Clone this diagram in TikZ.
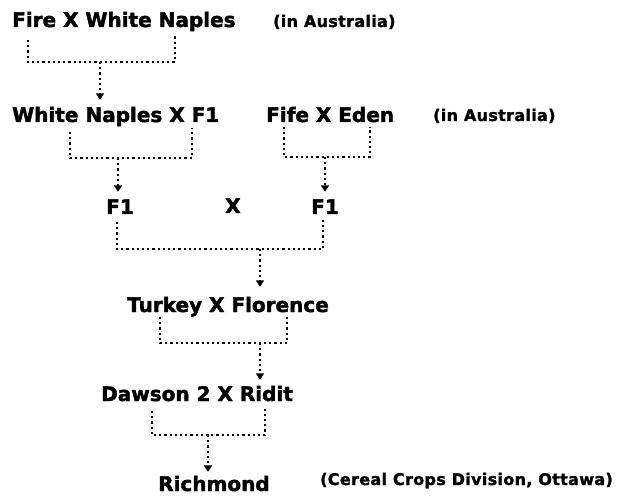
\documentclass[tikz,border=0pt]{standalone}
\usepackage{fontspec}
\setmainfont{DejaVu Sans}[BoldFont={DejaVu Sans Bold},BoldFeatures={FakeBold=2}]
\newfontfamily\notefont{DejaVu Sans}[BoldFont={DejaVu Sans Bold},BoldFeatures={FakeBold=1.5},LetterSpace=2]
\usetikzlibrary{arrows.meta}
\begin{document}
\begin{tikzpicture}[x=1pt,y=-1pt,
  lbl/.style={inner sep=0pt, anchor=base west, font=\fontsize{20}{24}\selectfont\bfseries},
  note/.style={inner sep=0pt, anchor=base west, font=\notefont\fontsize{16}{19}\selectfont\bfseries},
  dots/.style={line width=1.6pt, dash pattern=on 2.2pt off 3pt},
  arr/.style={dots, -{Triangle[width=8pt,length=6.5pt]}}]
\fill[white] (0,0) rectangle (624,497);
\useasboundingbox (0,0) rectangle (624,497);

\node[lbl] (fw) at (12,27) {Fire X White Naples};
\node[note] (au1) at (273,27) {(in Australia)};
\node[lbl] (wn) at (12,122) {White Naples X F1};
\node[lbl] (fe) at (266,122) {Fife X Eden};
\node[note] (au2) at (433,121) {(in Australia)};
\node[lbl] (f1a) at (106,214) {F1};
\node[lbl] (xx) at (225,213) {X};
\node[lbl] (f1b) at (311,214) {F1};
\node[lbl] (tf) at (127,312) {Turkey X Florence};
\node[lbl] (dr) at (101,401) {Dawson 2 X Ridit};
\node[lbl] (ri) at (158,491) {Richmond};
\node[note] (cc) at (320,485) {(Cereal Crops Division, Ottawa)};

% bracket 1
\coordinate (b1l) at (28,40); \coordinate (b1r) at (175,34); \coordinate (b1m) at (100,62);
\draw[dots] (b1l) |- (b1m) -| (b1r);
\draw[arr, shorten >=6.8pt] (b1m) -- (b1m |- wn.north);
% bracket 2
\coordinate (b2l) at (70,132); \coordinate (b2r) at (192,128); \coordinate (b2m) at (118,158);
\draw[dots] (b2l) |- (b2m) -| (b2r);
\draw[arr, shorten >=7.4pt] (b2m) -- (b2m |- f1a.north);
% bracket 3
\coordinate (b3l) at (284,127); \coordinate (b3r) at (370,127); \coordinate (b3m) at (325,157);
\draw[dots] (b3l) |- (b3m) -| (b3r);
\draw[arr, shorten >=7.4pt] (b3m) -- (b3m |- f1b.north);
% bracket 4
\coordinate (b4l) at (117,222); \coordinate (b4r) at (323,220); \coordinate (b4m) at (260,249);
\draw[dots] (b4l) |- (b4m) -| (b4r);
\draw[arr, shorten >=9.8pt] (b4m) -- (b4m |- tf.north);
% bracket 5
\coordinate (b5l) at (160,317); \coordinate (b5r) at (287,317); \coordinate (b5m) at (260,343);
\draw[dots] (b5l) |- (b5m) -| (b5r);
\draw[arr, shorten >=5.8pt] (b5m) -- (b5m |- dr.north);
% bracket 6
\coordinate (b6l) at (152,411); \coordinate (b6r) at (265,407); \coordinate (b6m) at (208,435);
\draw[dots] (b6l) |- (b6m) -| (b6r);
\draw[arr, shorten >=3.8pt] (b6m) -- (b6m |- ri.north);
\end{tikzpicture}
\end{document}
